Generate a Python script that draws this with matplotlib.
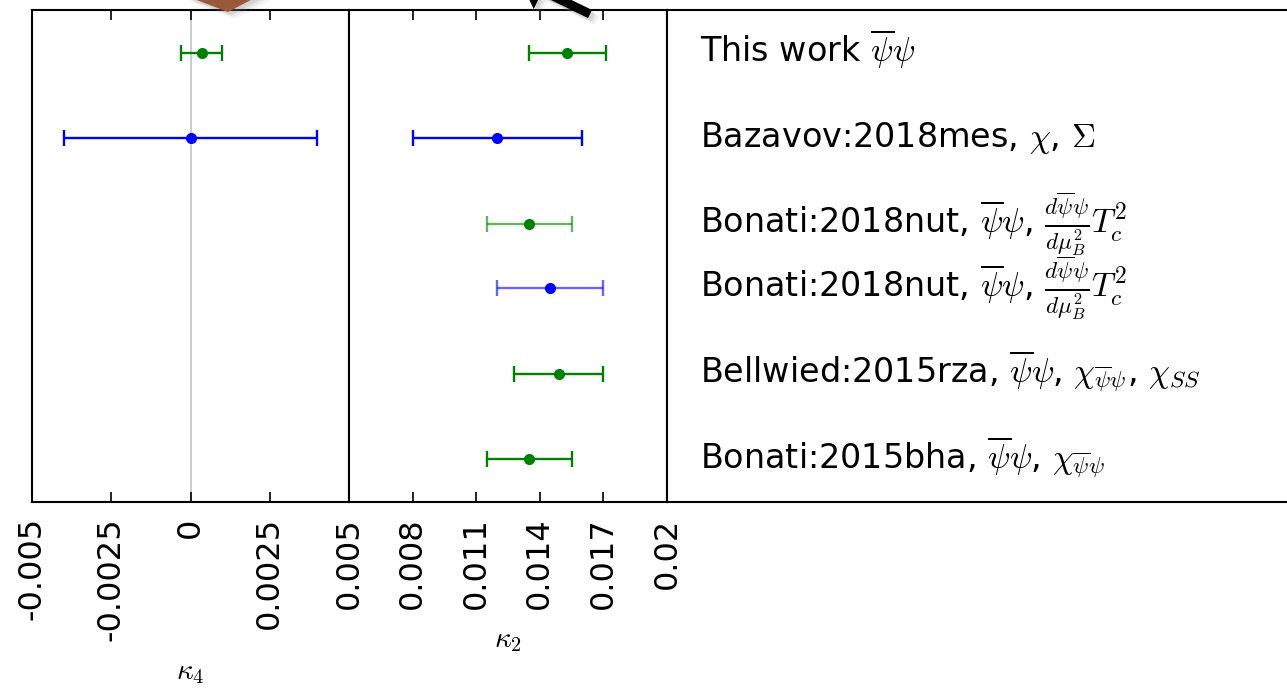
import numpy as np
import matplotlib
matplotlib.use("Agg")
import matplotlib.pyplot as plt
from matplotlib.patches import FancyArrowPatch
from matplotlib.transforms import IdentityTransform, ScaledTranslation

plt.rcParams['mathtext.fontset'] = 'cm'
plt.rcParams['axes.unicode_minus'] = False

# results, top row first
labels = [r'This work $\overline{\psi}\psi$',
          r'Bazavov:2018mes, $\chi$, $\Sigma$',
          r'Bonati:2018nut, $\overline{\psi}\psi$, $\frac{d\overline{\psi}\psi}{d\mu_B^2}T_c^2$',
          r'Bonati:2018nut, $\overline{\psi}\psi$, $\frac{d\overline{\psi}\psi}{d\mu_B^2}T_c^2$',
          r'Bellwied:2015rza, $\overline{\psi}\psi$, $\chi_{\overline{\psi}\psi}$, $\chi_{SS}$',
          r'Bonati:2015bha, $\overline{\psi}\psi$, $\chi_{\overline{\psi}\psi}$']
row_y = [5.25, 4.25, 3.25, 2.5, 1.5, 0.5]
colors = ['green', 'blue', 'green', 'blue', 'green', 'green']
bar_alpha = [1.0, 1.0, 0.6, 0.6, 1.0, 1.0]

kappa4 = [0.00035, 0.0, np.nan, np.nan, np.nan, np.nan]
kappa4_err = [0.00065, 0.004, np.nan, np.nan, np.nan, np.nan]
kappa2 = [0.0153, 0.012, 0.0135, 0.0145, 0.0149, 0.0135]
kappa2_err = [0.0018, 0.004, 0.002, 0.0025, 0.0021, 0.002]

k4_ticks = [-0.005, -0.0025, 0, 0.0025, 0.005]
k4_ticklabels = ['-0.005', '-0.0025', '0', '0.0025', '0.005']
k2_ticks = [0.005, 0.008, 0.011, 0.014, 0.017, 0.02]
k2_ticklabels = ['', '0.008', '0.011', '0.014', '0.017', '0.02']

W, H = 1287, 688
fig = plt.figure(figsize=(W / 100., H / 100.), dpi=100)


def px_axes(x0, x1, y_top, y_bot):
    return fig.add_axes([x0 / W, (H - y_bot) / H, (x1 - x0) / W, (y_bot - y_top) / H])


ax4 = px_axes(32, 349, 10, 502)
ax2 = px_axes(349, 667, 10, 502)
axt = px_axes(667, 1400, 10, 502)

ax4.axvline(0, color='#c8c8c8', lw=1.3, zorder=0)


def draw_points(ax, vals, errs):
    for y, v, e, c, a in zip(row_y, vals, errs, colors, bar_alpha):
        if np.isnan(v):
            continue
        ebar_color = matplotlib.colors.to_rgba(c, a)
        ax.errorbar([v], [y], xerr=[e], fmt='o', color=c, ecolor=ebar_color,
                    ms=7, elinewidth=1.7, capsize=5.5, capthick=1.7)


draw_points(ax4, kappa4, kappa4_err)
draw_points(ax2, kappa2, kappa2_err)

for ax, lim, ticks, ticklabels, name, lpad in [
        (ax4, (-0.005, 0.005), k4_ticks, k4_ticklabels, r'$\kappa_4$', 12),
        (ax2, (0.005, 0.02), k2_ticks, k2_ticklabels, r'$\kappa_2$', 12)]:
    ax.set_xlim(*lim)
    ax.set_ylim(0, 5.75)
    ax.set_yticks([])
    ax.set_xticks(ticks)
    ax.set_xticklabels(ticklabels, rotation=90, fontsize=23)
    ax.tick_params(axis='x', direction='in', top=True, length=7, width=1.2, pad=11)
    ax.set_xlabel(name, fontsize=21, labelpad=lpad)
    for sp in ax.spines.values():
        sp.set_linewidth(1.5)

axt.set_xlim(0, 1)
axt.set_ylim(0, 5.75)
axt.set_xticks([])
axt.set_yticks([])
for sp in axt.spines.values():
    sp.set_linewidth(1.5)

# labels sit with their baseline a little below the row
shift = ScaledTranslation(0, -9 / 100., fig.dpi_scale_trans)
for y, lab in zip(row_y, labels):
    axt.text(33. / 733, y, lab, fontsize=24, va='baseline', ha='left',
             transform=axt.transData + shift)


def px(x, y):
    return (x, H - y)


def pointer(tail, tip, style, color, **kw):
    fig.add_artist(FancyArrowPatch(px(*tail), px(*tip), arrowstyle=style, color=color,
                                   lw=0, shrinkA=0, shrinkB=0,
                                   transform=IdentityTransform(), **kw))


# pointer arrows reaching in from above, with a soft drop shadow
brown_style = 'simple,head_length=14,head_width=62,tail_width=14'
black_style = 'simple,head_length=18,head_width=29,tail_width=6.5'
for d, alpha in [(7, 0.08), (5, 0.12), (3, 0.18)]:
    pointer((222 + d, -90 + d), (228 + d, 12 + d), brown_style, 'gray', alpha=alpha)
    pointer((590 + d, 14 + d), (520 + d, -20 + d), black_style, 'gray', alpha=alpha)
pointer((222, -90), (228, 12), brown_style, '#9a5a3a')
pointer((590, 14), (520, -20), black_style, 'black')

fig.savefig('out.png', dpi=100)
